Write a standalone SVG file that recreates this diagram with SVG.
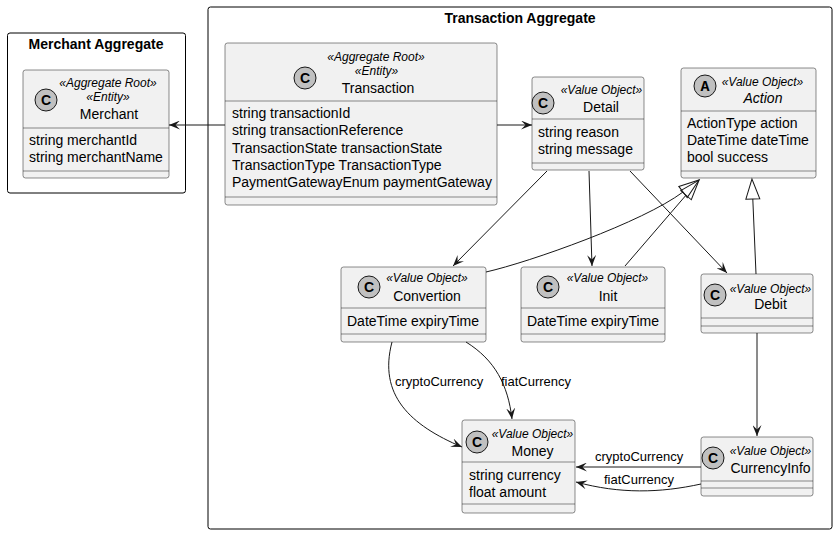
<svg xmlns="http://www.w3.org/2000/svg" width="837" height="535" viewBox="0 0 837 535">
<style>
text{font-family:"Liberation Sans",Arial,sans-serif;fill:#000}
.frame{fill:#fff;stroke:#000;stroke-width:1}
.ftitle{font-size:14px;font-weight:bold;text-anchor:middle}
.box{fill:#F1F1F1;stroke:#181818;stroke-width:0.5}
.div{stroke:#181818;stroke-width:0.5}
.spot{fill:#C0C0C0;stroke:#181818;stroke-width:1}
.letter{font-size:14px;font-weight:bold;text-anchor:middle}
.st{font-size:12px;font-style:italic;text-anchor:middle}
.nm{font-size:14px;text-anchor:middle}
.at{font-size:14px}
.lbl{font-size:13px}
.edge{fill:none;stroke:#181818;stroke-width:1}
</style>
<defs>
<marker id="arr" markerWidth="11" markerHeight="9" refX="11" refY="4.5" orient="auto" markerUnits="userSpaceOnUse"><path d="M0,0 L11,4.5 L0,9 L4.5,4.5 Z" fill="#181818"/></marker>
<marker id="tri" markerWidth="21" markerHeight="16" refX="0" refY="7" orient="auto" markerUnits="userSpaceOnUse" overflow="visible"><path d="M0,0 L20,7 L0,14 Z" fill="none" stroke="#181818" stroke-width="1"/></marker>
</defs>
<rect width="837" height="535" fill="#fff"/>
<g id="merchant-aggregate">
<rect class="frame" x="7.5" y="33" width="178" height="160" rx="2.5"/>
<text class="ftitle" x="96" y="49">Merchant Aggregate</text>
</g>
<g id="transaction-aggregate">
<rect class="frame" x="208" y="7" width="624" height="522" rx="2.5"/>
<text class="ftitle" x="520" y="23">Transaction Aggregate</text>
</g>
<g id="Merchant">
<rect class="box" x="23" y="70" width="146" height="108" rx="2.5"/>
<circle class="spot" cx="46" cy="100" r="11"/><text class="letter" x="46" y="105">C</text>
<text class="st" x="108" y="87">«Aggregate Root»</text>
<text class="st" x="108" y="101">«Entity»</text>
<text class="nm" x="109" y="119">Merchant</text>
<line class="div" x1="23" y1="128" x2="169" y2="128"/>
<text class="at" x="29" y="145">string merchantId</text>
<text class="at" x="29" y="162">string merchantName</text>
<line class="div" x1="23" y1="171" x2="169" y2="171"/>
</g>
<g id="Transaction">
<rect class="box" x="225" y="43" width="272" height="162" rx="2.5"/>
<circle class="spot" cx="305" cy="78" r="11"/><text class="letter" x="305" y="83">C</text>
<text class="st" x="376" y="61">«Aggregate Root»</text>
<text class="st" x="376.5" y="75">«Entity»</text>
<text class="nm" x="378" y="93">Transaction</text>
<line class="div" x1="225" y1="101" x2="497" y2="101"/>
<text class="at" x="232" y="118">string transactionId</text>
<text class="at" x="232" y="135">string transactionReference</text>
<text class="at" x="232" y="152.5">TransactionState transactionState</text>
<text class="at" x="232" y="170">TransactionType TransactionType</text>
<text class="at" x="232" y="187">PaymentGatewayEnum paymentGateway</text>
<line class="div" x1="225" y1="197" x2="497" y2="197"/>
</g>
<g id="Detail">
<rect class="box" x="532" y="77" width="112" height="93" rx="2.5"/>
<circle class="spot" cx="543" cy="103" r="11"/><text class="letter" x="543" y="108">C</text>
<text class="st" x="601.5" y="94">«Value Object»</text>
<text class="nm" x="601" y="112">Detail</text>
<line class="div" x1="532" y1="119" x2="644" y2="119"/>
<text class="at" x="538" y="137">string reason</text>
<text class="at" x="538" y="154">string message</text>
<line class="div" x1="532" y1="163" x2="644" y2="163"/>
</g>
<g id="Action">
<rect class="box" x="681" y="68" width="135" height="110" rx="2.5"/>
<circle class="spot" cx="705" cy="86" r="11"/><text class="letter" x="705" y="91" style="font-family:'Liberation Mono',monospace;font-size:15px">A</text>
<text class="st" x="762.5" y="86">«Value Object»</text>
<text class="nm" x="763" y="103" font-style="italic">Action</text>
<line class="div" x1="681" y1="111" x2="816" y2="111"/>
<text class="at" x="687" y="128">ActionType action</text>
<text class="at" x="687" y="145">DateTime dateTime</text>
<text class="at" x="687" y="162">bool success</text>
<line class="div" x1="681" y1="171" x2="816" y2="171"/>
</g>
<g id="Convertion">
<rect class="box" x="341" y="267" width="145" height="75" rx="2.5"/>
<circle class="spot" cx="369" cy="287" r="11"/><text class="letter" x="369" y="292">C</text>
<text class="st" x="427" y="282">«Value Object»</text>
<text class="nm" x="427" y="301">Convertion</text>
<line class="div" x1="341" y1="308" x2="486" y2="308"/>
<text class="at" x="347" y="326">DateTime expiryTime</text>
<line class="div" x1="341" y1="334" x2="486" y2="334"/>
</g>
<g id="Init">
<rect class="box" x="521" y="267" width="144" height="75" rx="2.5"/>
<circle class="spot" cx="548" cy="287" r="11"/><text class="letter" x="548" y="292">C</text>
<text class="st" x="607.5" y="282">«Value Object»</text>
<text class="nm" x="608" y="301">Init</text>
<line class="div" x1="521" y1="308" x2="665" y2="308"/>
<text class="at" x="527" y="326">DateTime expiryTime</text>
<line class="div" x1="521" y1="334" x2="665" y2="334"/>
</g>
<g id="Debit">
<rect class="box" x="701" y="274" width="112" height="59" rx="2.5"/>
<circle class="spot" cx="715" cy="295" r="11"/><text class="letter" x="715" y="300">C</text>
<text class="st" x="770.5" y="293">«Value Object»</text>
<text class="nm" x="770.5" y="309">Debit</text>
<line class="div" x1="701" y1="318" x2="813" y2="318"/>
<line class="div" x1="701" y1="326" x2="813" y2="326"/>
</g>
<g id="Money">
<rect class="box" x="462" y="420" width="113" height="93" rx="2.5"/>
<circle class="spot" cx="477" cy="442" r="11"/><text class="letter" x="477" y="447">C</text>
<text class="st" x="532.5" y="438">«Value Object»</text>
<text class="nm" x="532.5" y="456">Money</text>
<line class="div" x1="462" y1="462" x2="575" y2="462"/>
<text class="at" x="469" y="480">string currency</text>
<text class="at" x="469" y="497">float amount</text>
<line class="div" x1="462" y1="504" x2="575" y2="504"/>
</g>
<g id="CurrencyInfo">
<rect class="box" x="701" y="437" width="112" height="59" rx="2.5"/>
<circle class="spot" cx="713" cy="458" r="11"/><text class="letter" x="713" y="463">C</text>
<text class="st" x="770.5" y="455">«Value Object»</text>
<text class="nm" x="770.5" y="473">CurrencyInfo</text>
<line class="div" x1="701" y1="481" x2="813" y2="481"/>
<line class="div" x1="701" y1="488" x2="813" y2="488"/>
</g>
<g id="connectors">
<path class="edge" d="M225,125 L169,125" marker-end="url(#arr)"/>
<path class="edge" d="M497,125 L532,125" marker-end="url(#arr)"/>
<path class="edge" d="M547,171 L453,266" marker-end="url(#arr)"/>
<path class="edge" d="M589,171 L592,266" marker-end="url(#arr)"/>
<path class="edge" d="M630,171 L727,273" marker-end="url(#arr)"/>
<path class="edge" d="M486,272 C530,262 643,222 683,192" marker-end="url(#tri)"/>
<path class="edge" d="M625,266 L686,195.2" marker-end="url(#tri)"/>
<path class="edge" d="M756,274 L752.8,199" marker-end="url(#tri)"/>
<path class="edge" d="M757,333 L757,436" marker-end="url(#arr)"/>
<path class="edge" d="M392,342 C378,395 410,425 462,447" marker-end="url(#arr)"/>
<path class="edge" d="M466,342 C495,360 508,385 512,419" marker-end="url(#arr)"/>
<path class="edge" d="M701,467 L576,467" marker-end="url(#arr)"/>
<path class="edge" d="M701,484 C660,493 620,494 576,482" marker-end="url(#arr)"/>
<text class="lbl" x="395" y="386">cryptoCurrency</text>
<text class="lbl" x="501" y="386">fiatCurrency</text>
<text class="lbl" x="595" y="461">cryptoCurrency</text>
<text class="lbl" x="604" y="484">fiatCurrency</text>
</g>
</svg>
